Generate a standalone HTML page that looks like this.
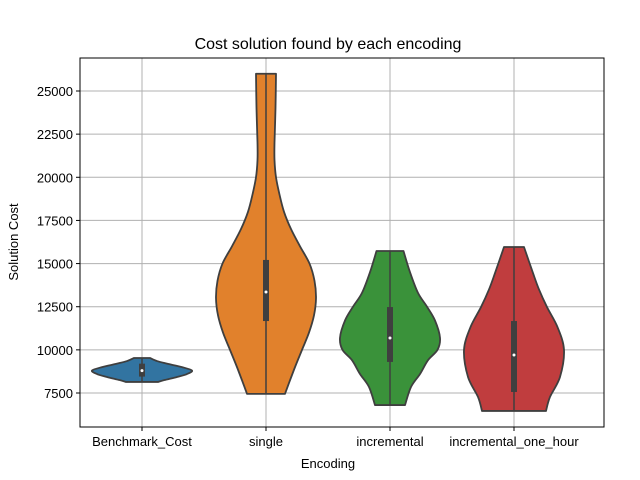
<!DOCTYPE html>
<html><head><meta charset="utf-8"><style>
body{margin:0;background:#fff;width:640px;height:480px;overflow:hidden}
svg{display:block;font-family:"Liberation Sans","DejaVu Sans",sans-serif}
</style></head><body>
<svg id="chart" width="640" height="480">
<text x="328" y="49" text-anchor="middle" font-size="16">Cost solution found by each encoding</text>
<g id="grid"></g><g id="violins"></g><g id="axes"></g>
<text x="328" y="468" text-anchor="middle" font-size="13">Encoding</text>
<text transform="translate(18,242) rotate(-90)" text-anchor="middle" font-size="13">Solution Cost</text>
</svg>
<script>
const categories=["Benchmark_Cost","single","incremental","incremental_one_hour"];
const colors=["#3274a1","#e1812c","#3a923a","#c03d3e"];
const yTicks=[7500,10000,12500,15000,17500,20000,22500,25000];
const profileValues=[
 [9530,9350,9200,9000,8800,8600,8430,8250,8140],
 [26000,24000,22000,21000,20000,19000,18000,17000,16000,15000,14000,13000,12000,11000,10000,9000,8000,7450],
 [15730,14500,13300,12500,11700,10700,10000,9400,8600,7850,6800],
 [15960,14450,13500,12480,11320,10000,8430,7270,6460]
];
const profileDensity=[
 [0.16,0.3,0.5,0.8,1.0,0.9,0.7,0.45,0.32],
 [0.2,0.19,0.17,0.17,0.2,0.27,0.36,0.5,0.68,0.87,0.97,1.0,0.96,0.86,0.72,0.58,0.45,0.38],
 [0.27,0.4,0.56,0.74,0.9,1.0,0.95,0.76,0.6,0.42,0.3],
 [0.2,0.38,0.5,0.66,0.87,1.0,0.92,0.72,0.64]
];
const whiskerLow=[8150,7450,6800,6460];
const whiskerHigh=[9500,26000,15750,15960];
const q1=[8450,11670,9300,7560];
const q3=[9200,15210,12480,11670];
const medians=[8800,13350,10690,9700];

const L=80,R=604,T=58,B=427;
const y=v=>393-(v-7500)*(302/17500);
const x=i=>142+i*124;
const HW=50;
const NS="http://www.w3.org/2000/svg";
function mk(tag,attrs,parent){const e=document.createElementNS(NS,tag);for(const k in attrs)e.setAttribute(k,attrs[k]);parent.appendChild(e);return e;}
const grid=document.getElementById('grid'),vg=document.getElementById('violins'),ax=document.getElementById('axes');
yTicks.forEach(t=>{
 const g=mk('line',{x1:L,x2:R,y1:y(t),y2:y(t),stroke:'#b0b0b0','stroke-width':1},grid);
 
 
 mk('line',{x1:L-4,x2:L,y1:y(t),y2:y(t),stroke:'#000'},ax);
 const tx=mk('text',{x:L-7,y:y(t)+5,'text-anchor':'end','font-size':13},ax);
 tx.textContent=t;
 
 
});
categories.forEach((c,i)=>{
 const g=mk('line',{x1:x(i),x2:x(i),y1:T,y2:B,stroke:'#b0b0b0','stroke-width':1},grid);
 
 
 mk('line',{x1:x(i),x2:x(i),y1:B,y2:B+4,stroke:'#000'},ax);
 const tx=mk('text',{x:x(i),y:B+19,'text-anchor':'middle','font-size':13},ax);
 tx.textContent=c;
 
 
});
function smooth(pts){
 let d='M'+pts[0][0]+','+pts[0][1];
 for(let k=0;k<pts.length-1;k++){
  const p0=pts[Math.max(k-1,0)],p1=pts[k],p2=pts[k+1],p3=pts[Math.min(k+2,pts.length-1)];
  const c1=[p1[0]+(p2[0]-p0[0])/6,p1[1]+(p2[1]-p0[1])/6];
  const c2=[p2[0]-(p3[0]-p1[0])/6,p2[1]-(p3[1]-p1[1])/6];
  d+=' C'+c1[0]+','+c1[1]+' '+c2[0]+','+c2[1]+' '+p2[0]+','+p2[1];
 }
 return d;
}
categories.forEach((c,i)=>{
 const cx=x(i),vals=profileValues[i],dens=profileDensity[i];
 const right=vals.map((v,k)=>[cx+dens[k]*HW,y(v)]);
 const left=vals.map((v,k)=>[cx-dens[k]*HW,y(v)]).reverse();
 let d=smooth(right);
 d+=' L'+left[0][0]+','+left[0][1]+smooth(left).replace(/^M[^ ]+/,'')+' Z';
 const p=mk('path',{d:d,fill:colors[i],stroke:'#3f3f3f','stroke-width':1.8,'stroke-linejoin':'round'},vg);
 
 
 const w=mk('line',{x1:cx,x2:cx,y1:y(whiskerHigh[i]),y2:y(whiskerLow[i]),stroke:'#3f3f3f','stroke-width':1.5},vg);
 
 
 const b=mk('rect',{x:cx-3,width:6,y:y(q3[i]),height:y(q1[i])-y(q3[i]),fill:'#3f3f3f'},vg);
 
 
 const m=mk('circle',{cx:cx,cy:y(medians[i]),r:1.5,fill:'#fff'},vg);
 
 
});
const fr=mk('rect',{x:L,y:T,width:R-L,height:B-T,fill:'none',stroke:'#000','stroke-width':1},ax);


</script>
</body></html>
